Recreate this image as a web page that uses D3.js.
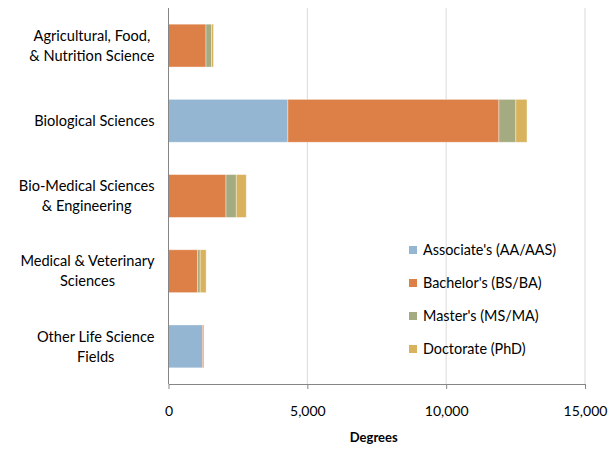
<!DOCTYPE html>
<html>
<head>
<meta charset="utf-8">
<script src="https://cdn.jsdelivr.net/npm/d3@7"></script>
<style>
  body { margin: 0; background: #fff; }
  svg text { font-family: Lato, "Open Sans", sans-serif; fill: #000; }
</style>
</head>
<body>
<div id="chart"></div>
<script>
// categories, top to bottom
const fields = [
  ["Agricultural, Food,", "& Nutrition Science"],
  ["Biological Sciences"],
  ["Bio-Medical Sciences", "& Engineering"],
  ["Medical & Veterinary", "Sciences"],
  ["Other Life Science", "Fields"]
];
const degreeTypes = ["Associate's (AA/AAS)", "Bachelor's (BS/BA)", "Master's (MS/MA)", "Doctorate (PhD)"];
const associate = [0, 4300, 0, 0, 1220];
const bachelor = [1350, 7600, 2070, 1040, 50];
const master = [200, 610, 370, 100, 0];
const doctorate = [70, 400, 360, 215, 0];
const xTicks = [0, 5000, 10000, 15000];
const colors = ["#94b6d2", "#dd8047", "#a5ab81", "#d8b25c"];

const config = {
  width: 616, height: 449,
  margin: { top: 8, right: 31, bottom: 65, left: 168.5 }
};

const svg = d3.select("#chart").append("svg")
  .attr("width", config.width)
  .attr("height", config.height);

const innerW = config.width - config.margin.left - config.margin.right;
const innerH = config.height - config.margin.top - config.margin.bottom;

const g = svg.append("g")
  .attr("transform", `translate(${config.margin.left},${config.margin.top})`);

const rows = fields.map((f, i) => ({
  key: i,
  vals: [associate[i], bachelor[i], master[i], doctorate[i]]
}));

const x = d3.scaleLinear().domain([0, 15000]).range([0, innerW]);
const y = d3.scaleBand().domain(rows.map(d => d.key)).range([0, innerH]).paddingInner(0.43).paddingOuter(0.215);

// gridlines
g.selectAll(".grid").data(xTicks.slice(1))
  .enter().append("line")
  .attr("x1", d => x(d)).attr("x2", d => x(d))
  .attr("y1", 0).attr("y2", innerH)
  .attr("stroke", "#d9d9d9").attr("stroke-width", 1);

// stacked bars
const stack = d3.stack().keys([0, 1, 2, 3]).value((d, k) => d.vals[k]);
const series = stack(rows);

g.selectAll(".series").data(series)
  .enter().append("g")
  .attr("fill", (d, i) => colors[i])
  .selectAll("rect").data(d => d.filter(s => s[1] > s[0]))
  .enter().append("rect")
  .attr("x", d => x(d[0]))
  .attr("width", d => x(d[1]) - x(d[0]))
  .attr("y", d => y(d.data.key))
  .attr("height", y.bandwidth())
  .attr("stroke", "#fff")
  .attr("stroke-opacity", 0.5)
  .attr("stroke-width", 0.75);

// axes
const xAxis = g.append("g")
  .attr("transform", `translate(0,${innerH})`)
  .call(d3.axisBottom(x).tickValues(xTicks).tickFormat(d3.format(",")).tickSizeInner(5).tickSizeOuter(0).tickPadding(17));
xAxis.select(".domain").attr("stroke", "#868686");
xAxis.selectAll(".tick line").attr("stroke", "#868686");
xAxis.selectAll(".tick text").attr("font-size", 14).attr("font-family", "Lato, sans-serif");

g.append("line")
  .attr("x1", 0).attr("x2", 0).attr("y1", 0).attr("y2", innerH)
  .attr("stroke", "#868686");

// category labels (centered block, right-aligned to axis)
const labelRight = -14;
const lbl = g.selectAll(".cat").data(rows).enter().append("g");
lbl.each(function(d, i) {
  const lines = fields[i];
  const el = d3.select(this);
  const cy = y(d.key) + y.bandwidth() / 2;
  const lh = 20;
  const texts = lines.map((t, j) => el.append("text")
    .attr("font-size", 14.6)
    .attr("text-anchor", "middle")
    .attr("y", cy + (j - (lines.length - 1) / 2) * lh)
    .attr("dy", "0.35em")
    .text(t));
  const maxW = d3.max(texts, t => t.node().getComputedTextLength());
  texts.forEach(t => t.attr("x", labelRight - maxW / 2));
});

// axis title
svg.append("text")
  .attr("x", config.margin.left + innerW / 2 - 3)
  .attr("y", 442)
  .attr("text-anchor", "middle")
  .attr("font-size", 13)
  .attr("font-weight", "bold")
  .text("Degrees");

// legend
const legend = svg.append("g").attr("transform", "translate(409,250)");
const li = legend.selectAll(".li").data(degreeTypes).enter().append("g")
  .attr("transform", (d, i) => `translate(0,${i * 33})`);
li.append("rect").attr("x", 0).attr("y", -4).attr("width", 8).attr("height", 8)
  .attr("fill", (d, i) => colors[i]);
li.append("text").attr("x", 14).attr("dy", "0.35em").attr("font-size", 14.4).text(d => d);
</script>
</body>
</html>
